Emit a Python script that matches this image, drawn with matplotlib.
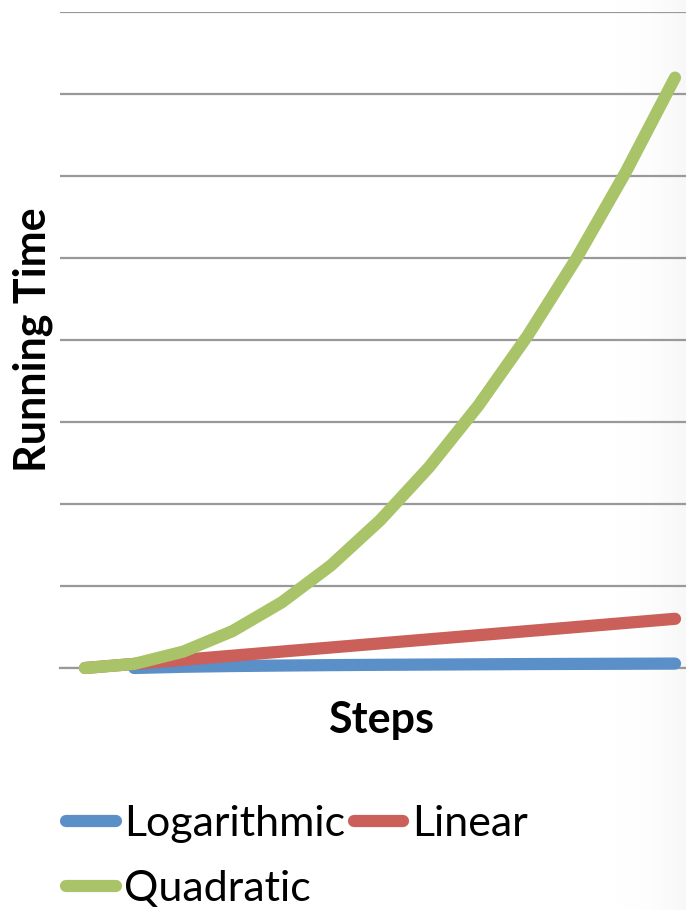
import numpy as np
import matplotlib
matplotlib.use("Agg")
import matplotlib.pyplot as plt
from matplotlib.lines import Line2D

# ---- data ----
steps = list(range(13))
logarithmic = [None, 0.0, 0.15, 0.24, 0.30, 0.35, 0.39, 0.42, 0.45, 0.48, 0.50, 0.52, 0.54]
linear = [0.0, 0.5, 1.0, 1.5, 2.0, 2.5, 3.0, 3.5, 4.0, 4.5, 5.0, 5.5, 6.0]
quadratic = [0.0, 0.5, 2.0, 4.5, 8.0, 12.5, 18.0, 24.5, 32.0, 40.5, 50.0, 60.5, 72.0]
series_names = ["Logarithmic", "Linear", "Quadratic"]
colors = ["#5b8fc7", "#cb5f5a", "#a9c468"]
y_ticks = [0, 10, 20, 30, 40, 50, 60, 70, 80]

W, H = 686, 910
fig = plt.figure(figsize=(W / 100, H / 100), dpi=100)
fig.patch.set_facecolor("white")

# subtle shading on right edge
bg = fig.add_axes([0, 0, 1, 1], zorder=-10)
grad = np.linspace(0, 1, 200)
grad = np.clip((grad - 0.9) / 0.1, 0, 1) ** 2
img = np.ones((2, 200, 3))
for c in range(3):
    img[:, :, c] = 1 - 0.03 * grad
bg.imshow(img, extent=[0, 1, 0, 1], aspect="auto")
bg.set_axis_off()

left = 60.4 / W
width = 639.2 / W
bottom = (H - 668) / H
height = 656 / H
ax = fig.add_axes([left, bottom, width, height])
ax.patch.set_alpha(0)

lw = 8.8
data = [logarithmic, linear, quadratic]
for name, vals, col in zip(series_names, data, colors):
    xs = [s for s, v in zip(steps, vals) if v is not None]
    ys = [v for v in vals if v is not None]
    ax.plot(xs, ys, color=col, lw=lw, solid_capstyle="round",
            solid_joinstyle="round", label=name, zorder=3, clip_on=False)

ax.set_xlim(-0.5, 12.5)
ax.set_ylim(0, 80)
ax.set_yticks(y_ticks)
ax.set_xticks([])
ax.yaxis.grid(True, color="#999999", lw=1.6)
ax.set_axisbelow(True)
ax.tick_params(axis="y", length=0, labelleft=False)
for s in ["top", "right", "left"]:
    ax.spines[s].set_visible(False)
ax.spines["bottom"].set_color("#999999")
ax.spines["bottom"].set_linewidth(1.6)

fig.text(33 / W, 1 - 340 / H, "Running Time", rotation=90, ha="center", va="center",
         fontsize=31, fontweight="bold", family="Lato")
fig.text(381 / W, 1 - 720 / H, "Steps", ha="center", va="center",
         fontsize=31, fontweight="bold", family="Lato")

leg_handles = [Line2D([], [], color=colors[0], lw=lw, solid_capstyle="round"),
               Line2D([], [], color=colors[2], lw=lw, solid_capstyle="round"),
               Line2D([], [], color=colors[1], lw=lw, solid_capstyle="round")]
leg_labels = [series_names[0], series_names[2], series_names[1]]
fig.legend(leg_handles, leg_labels, ncol=2, loc="upper left",
           bbox_to_anchor=(66 / W, 1 - 805 / H), frameon=False,
           prop={"family": "Lato", "size": 31}, handlelength=1.15,
           handletextpad=0.2, columnspacing=0.2, borderpad=0, borderaxespad=0,
           labelspacing=0.62)

fig.savefig("out.png", dpi=100, facecolor="white")
